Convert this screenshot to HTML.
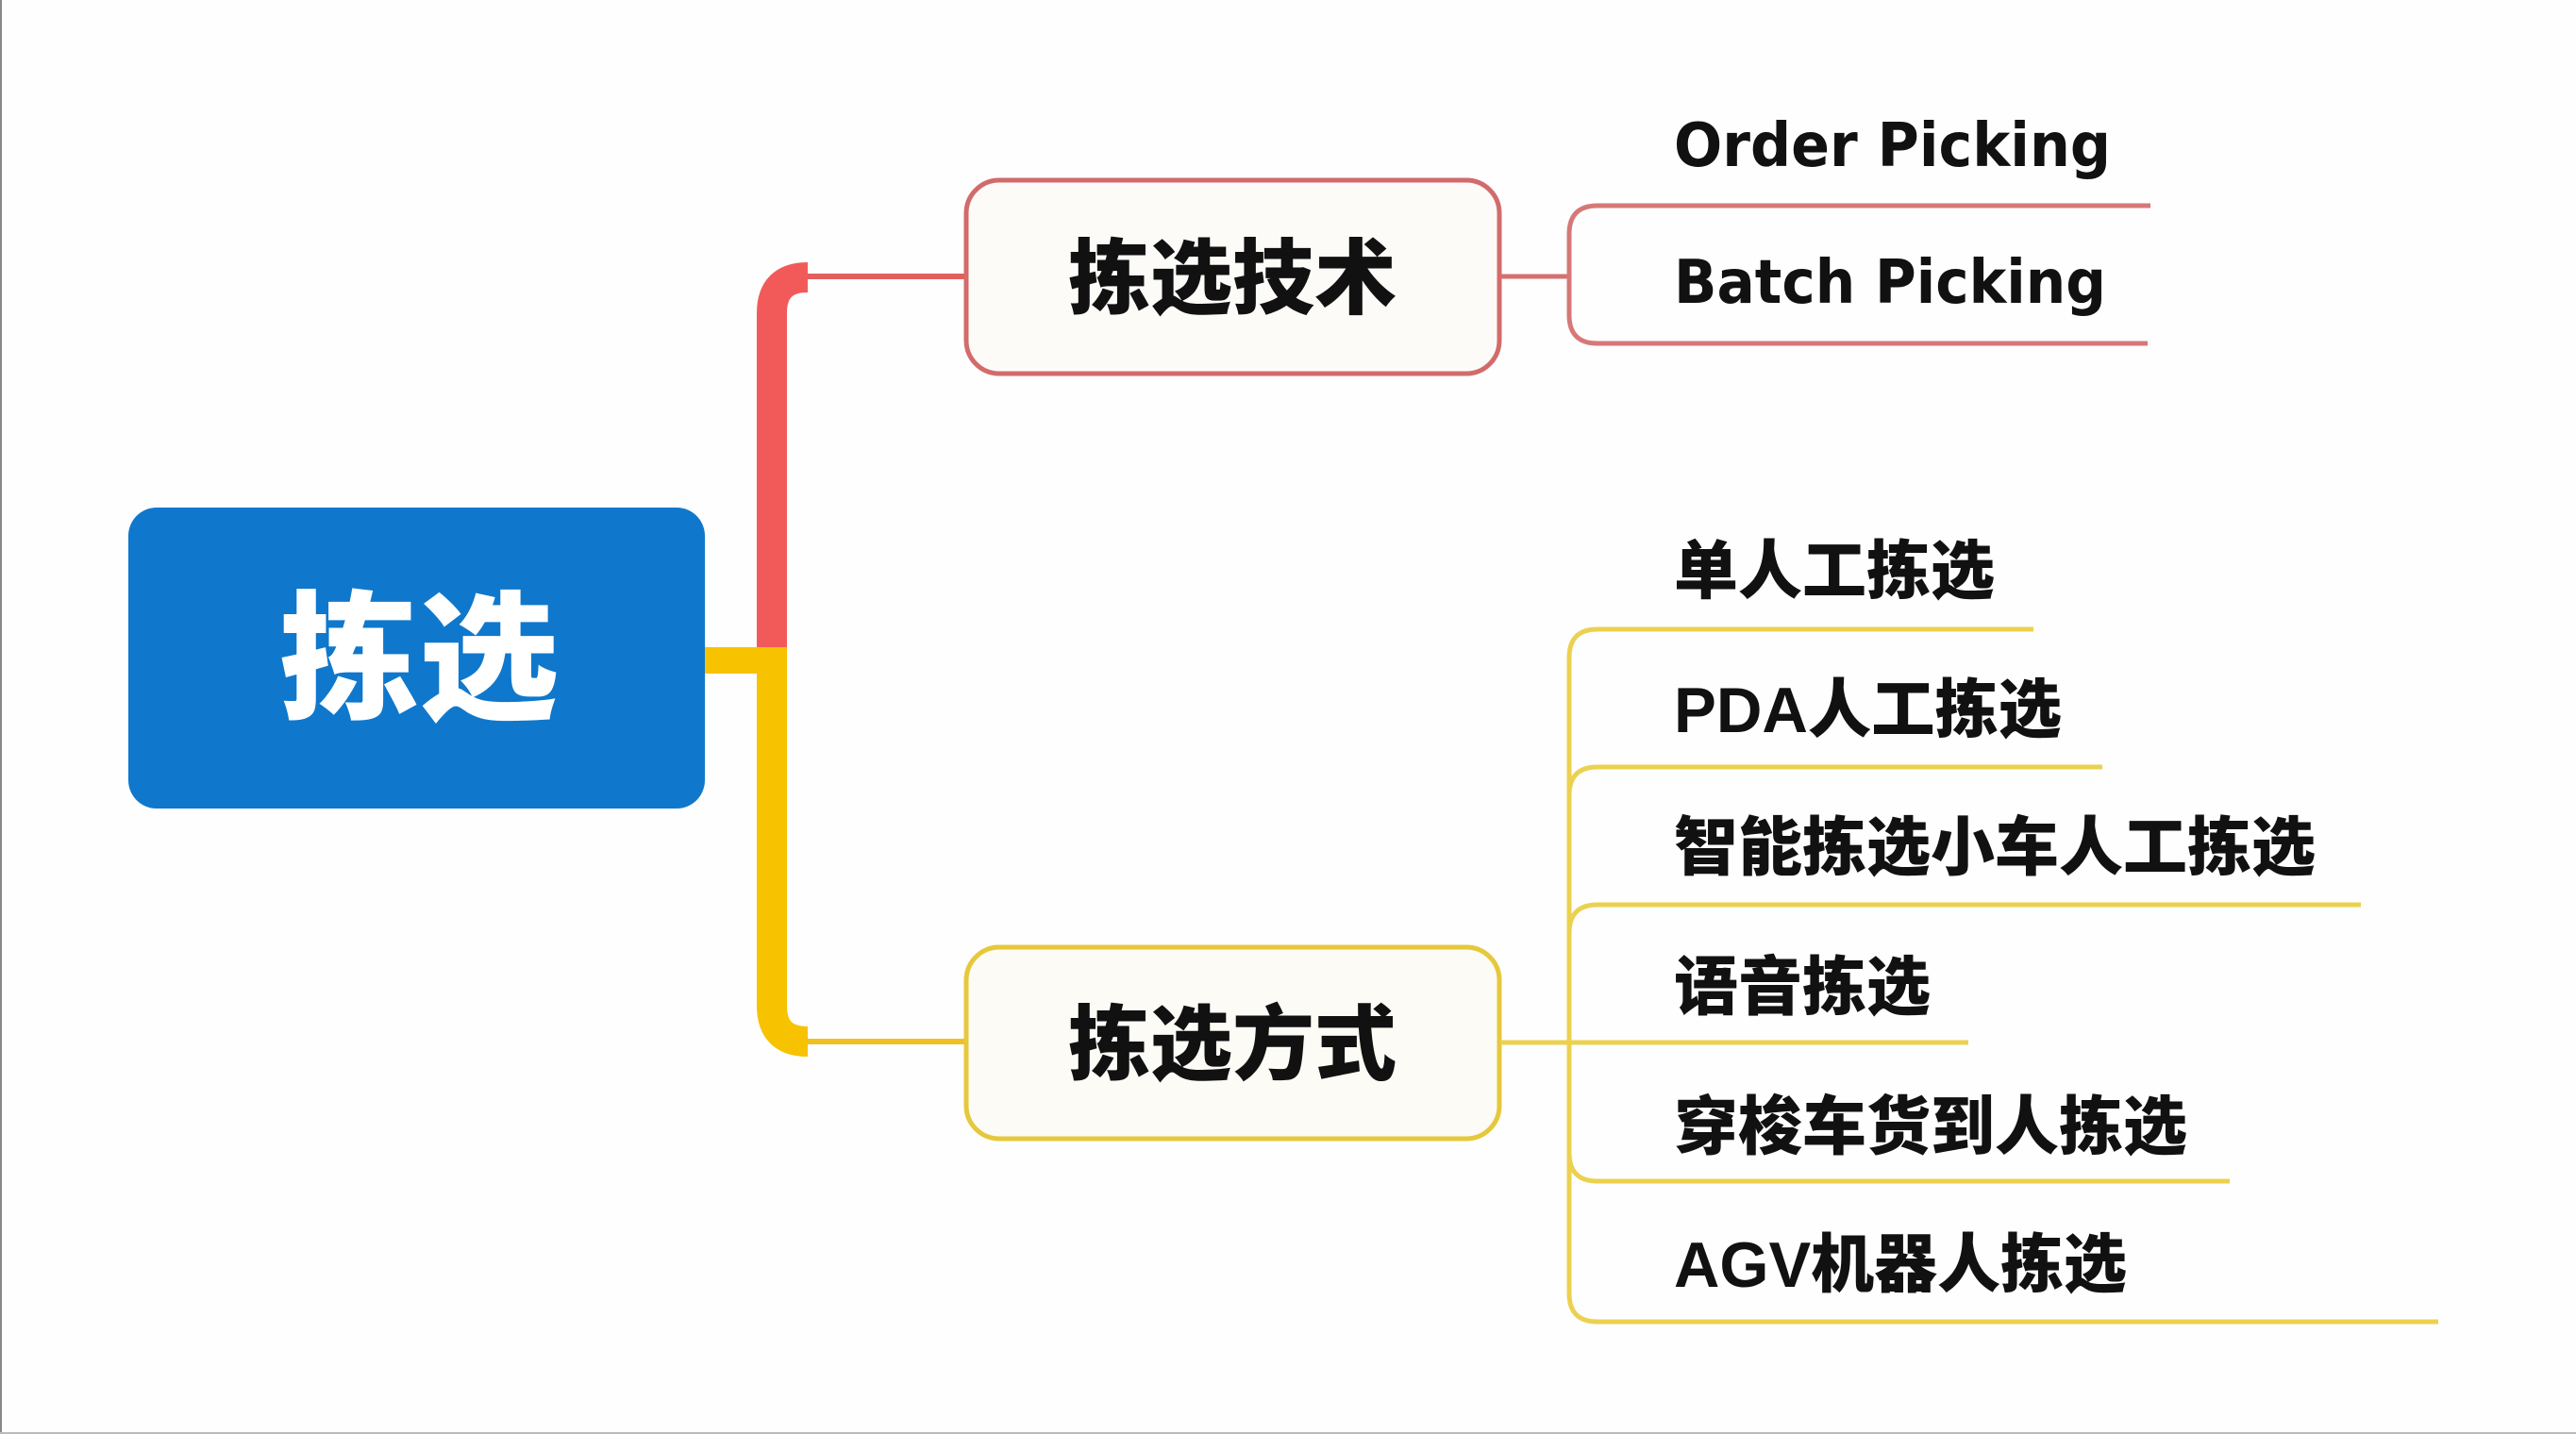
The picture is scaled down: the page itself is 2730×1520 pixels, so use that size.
<!DOCTYPE html>
<html><head><meta charset="utf-8"><style>
html,body{margin:0;padding:0;background:#fefefe;}
svg{display:block;}
text{font-family:"Liberation Sans","Noto Sans CJK SC",sans-serif;font-weight:900;fill:#111;}
.lat{font-family:"DejaVu Sans","Liberation Sans","Noto Sans CJK SC",sans-serif;font-weight:bold;}
</style></head><body>
<svg width="2730" height="1520" viewBox="0 0 2730 1520" xmlns="http://www.w3.org/2000/svg">
<rect x="0" y="0" width="2730" height="1520" fill="#fefefe"/>
<line x1="1" y1="0" x2="1" y2="1520" stroke="#888" stroke-width="2"/>
<line x1="0" y1="1519" x2="2730" y2="1519" stroke="#bbb" stroke-width="2"/>

<!-- root connectors -->
<path d="M818 696 V332 Q818 294 856 294" fill="none" stroke="#f25a5a" stroke-width="32"/>
<line x1="856" y1="293" x2="1022" y2="293" stroke="#e06060" stroke-width="6"/>
<path d="M818 696 V1066 Q818 1104 856 1104" fill="none" stroke="#f7c200" stroke-width="32"/>
<line x1="856" y1="1104" x2="1022" y2="1104" stroke="#f0c020" stroke-width="6"/>
<rect x="740" y="686" width="94" height="28" fill="#f7c200"/>

<!-- root box -->
<rect x="136" y="538" width="611" height="319" rx="30" fill="#0f78cc"/>
<text x="444" y="700" font-size="148" text-anchor="middle" dominant-baseline="central" style="fill:#fff">拣选</text>

<!-- second level boxes -->
<rect x="1024" y="191" width="565" height="205" rx="35" fill="#fcfbf7" stroke="#d26b6b" stroke-width="5"/>
<text x="1306" y="296" font-size="87" text-anchor="middle" dominant-baseline="central">拣选技术</text>
<rect x="1024" y="1004" width="565" height="203" rx="35" fill="#fcfbf5" stroke="#e6c83c" stroke-width="5"/>
<text x="1306" y="1108" font-size="87" text-anchor="middle" dominant-baseline="central">拣选方式</text>

<!-- red bracket -->
<line x1="1590" y1="293" x2="1663" y2="293" stroke="#d67070" stroke-width="5"/>
<path d="M2279 218 H1693 Q1663 218 1663 248 V334 Q1663 364 1693 364 H2276" fill="none" stroke="#d67878" stroke-width="5"/>
<text class="lat" x="1774" y="155" font-size="64" dominant-baseline="central" textLength="463" lengthAdjust="spacingAndGlyphs">Order Picking</text>
<text class="lat" x="1774" y="300" font-size="64" dominant-baseline="central" textLength="458" lengthAdjust="spacingAndGlyphs">Batch Picking</text>

<!-- yellow bracket -->
<g fill="none" stroke="#ecd150" stroke-width="5">
<line x1="1590" y1="1105" x2="2086" y2="1105"/>
<path d="M2155 667 H1693 Q1663 667 1663 697 V1371 Q1663 1401 1693 1401 H2584"/>
<path d="M1663 843 Q1663 813 1693 813 H2228"/>
<path d="M1663 989 Q1663 959 1693 959 H2502"/>
<path d="M1663 1222 Q1663 1252 1693 1252 H2363"/>
</g>
<g font-size="68" dominant-baseline="central">
<text x="1774" y="606">单人工拣选</text>
<text x="1774" y="753" textLength="411" lengthAdjust="spacingAndGlyphs">PDA人工拣选</text>
<text x="1774" y="899">智能拣选小车人工拣选</text>
<text x="1774" y="1047">语音拣选</text>
<text x="1774" y="1195">穿梭车货到人拣选</text>
<text x="1774" y="1341" textLength="480" lengthAdjust="spacingAndGlyphs">AGV机器人拣选</text>
</g>
</svg>
</body></html>
